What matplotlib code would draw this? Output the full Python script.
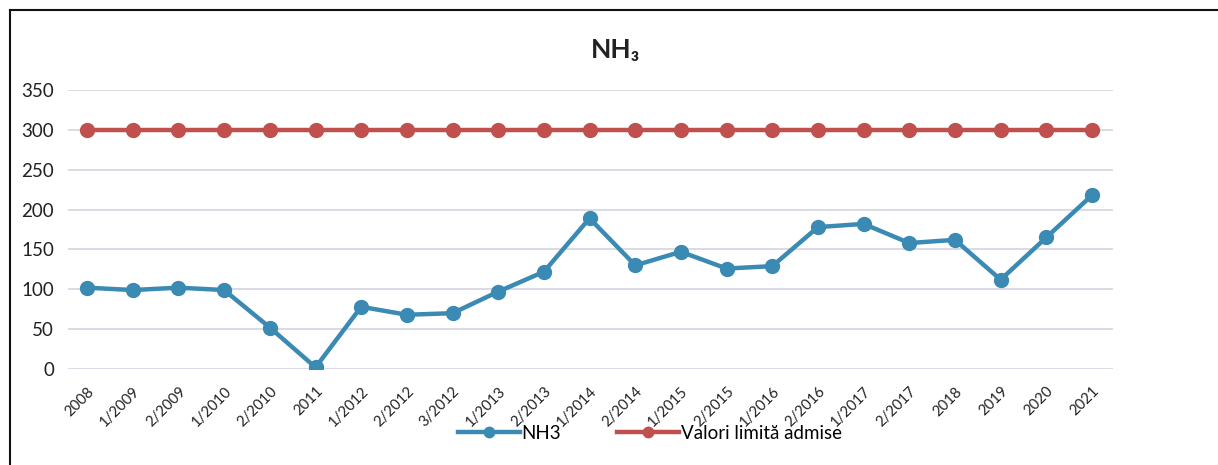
import matplotlib.pyplot as plt
from matplotlib.lines import Line2D

categories = ['2008', '1/2009', '2/2009', '1/2010', '2/2010', '2011', '1/2012',
              '2/2012', '3/2012', '1/2013', '2/2013', '1/2014', '2/2014', '1/2015',
              '2/2015', '1/2016', '2/2016', '1/2017', '2/2017', '2018', '2019',
              '2020', '2021']
nh3 = [102, 99, 102, 99, 52, 2, 78, 68, 70, 97, 122, 189, 130, 147, 126, 129,
       178, 182, 158, 162, 112, 165, 218]
limita = [300] * len(categories)
yticks = [0, 50, 100, 150, 200, 250, 300, 350]

plt.rcParams['font.family'] = ['Lato', 'DejaVu Sans']

fig = plt.figure(figsize=(12.18, 4.65), dpi=100)
ax = fig.add_axes([0.0558, 0.2065, 0.858, 0.60])

x = list(range(len(categories)))
blue = '#3a8ab3'
red = '#c0504d'
ax.plot(x, nh3, color=blue, lw=3.2, marker='o', ms=10, label='NH3', zorder=3)
ax.plot(x, limita, color=red, lw=3.2, marker='o', ms=10,
        label='Valori limită admise', zorder=3)

ax.set_xlim(-0.42, 22.46)
ax.set_ylim(0, 350)
ax.set_yticks(yticks)
ax.set_xticks(x)
ax.set_xticklabels(categories, rotation=45, ha='right', rotation_mode='anchor',
                   fontsize=10.7, color='#222222')
ax.tick_params(axis='y', labelsize=13.5, colors='#222222', length=0, pad=10)
ax.tick_params(axis='x', length=0, pad=11)
ax.grid(axis='y', color='#d4d4e0', lw=1.2)
ax.set_axisbelow(True)
for s in ax.spines.values():
    s.set_visible(False)

fig.text(0.505, 0.893, 'NH₃', ha='center', va='center', fontsize=19,
         fontweight='bold', color='#222222', family=['Lato', 'DejaVu Sans'])

ax.legend(loc='center', bbox_to_anchor=(0.557, -0.23), ncol=2, frameon=False,
          fontsize=13.5, handlelength=3.3, handletextpad=0.1, columnspacing=3.0,
          markerscale=0.75)

# chart border
fig.add_artist(Line2D([0.008, 1.0], [0.978, 0.978], color='#111111', lw=1.5,
                      transform=fig.transFigure))
fig.add_artist(Line2D([0.008, 0.008], [0.0, 0.978], color='#111111', lw=1.5,
                      transform=fig.transFigure))

fig.savefig('out.png', dpi=100)
